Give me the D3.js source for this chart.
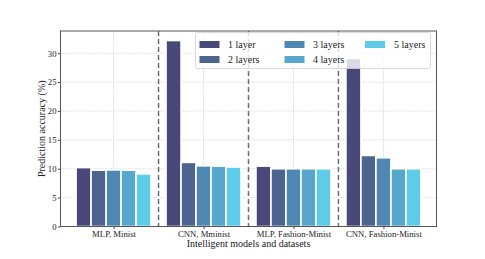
<!DOCTYPE html>
<html>
<head>
<meta charset="utf-8">
<script src="https://cdn.jsdelivr.net/npm/d3@7"></script>
<style>
  body { margin: 0; background: #fff; }
  svg { display: block; }
</style>
</head>
<body>
<div id="drawer"></div>
<script>
// data
var groups = ["MLP, Minist", "CNN, Mminist", "MLP, Fashion-Minist", "CNN, Fashion-Minist"];
var seriesNames = ["1 layer", "2 layers", "3 layers", "4 layers", "5 layers"];
var layer1 = [10.2, 32.2, 10.45, 29.1];
var layer2 = [9.75, 11.1, 10.0, 12.3];
var layer3 = [9.8, 10.5, 10.0, 11.9];
var layer4 = [9.75, 10.45, 10.0, 10.0];
var layer5 = [9.1, 10.3, 10.0, 10.0];
var yTicks = [0, 5, 10, 15, 20, 25, 30];

var series = [layer1, layer2, layer3, layer4, layer5];
var colors = ["#4a4878", "#4d6490", "#5088b4", "#57a6cc", "#5ecbe8"];

var w = 485, h = 259;
var plotL = 60.5, plotR = 436.5, plotT = 31, plotB = 226.5;
var font = "'Liberation Serif', 'Times New Roman', serif";

var svg = d3.select("#drawer").append("svg")
  .attr("width", w).attr("height", h);

var x = d3.scaleLinear().domain([-0.59, 3.59]).range([plotL, plotR]);
var y = d3.scaleLinear().domain([0, 33.85]).range([plotB, plotT]);
var barW = 0.1667;

// grid
var grid = svg.append("g");
grid.selectAll(".hg").data(yTicks).enter().append("line")
  .attr("x1", plotL).attr("x2", plotR)
  .attr("y1", function(d) { return y(d); }).attr("y2", function(d) { return y(d); })
  .style("stroke", "#d4d4d4").style("stroke-width", 0.8).style("stroke-dasharray", "1.5,1");
grid.selectAll(".vg").data(groups).enter().append("line")
  .attr("x1", function(d, i) { return x(i); }).attr("x2", function(d, i) { return x(i); })
  .attr("y1", plotT).attr("y2", plotB)
  .style("stroke", "#d4d4d4").style("stroke-width", 0.8).style("stroke-dasharray", "1.5,1");

// bars
var bars = [];
series.forEach(function(s, k) {
  s.forEach(function(v, i) { bars.push({g: i, k: k, v: v}); });
});
svg.append("g").selectAll("rect").data(bars).enter().append("rect")
  .attr("x", function(d) { return x(d.g + (d.k - 2) * barW - barW / 2); })
  .attr("width", x(barW) - x(0))
  .attr("y", function(d) { return y(d.v); })
  .attr("height", function(d) { return y(0) - y(d.v); })
  .style("fill", function(d) { return colors[d.k]; })
  .style("stroke", "#fff").style("stroke-width", 1.6);

// dashed separators
svg.append("g").selectAll("line").data([0.5, 1.5, 2.5]).enter().append("line")
  .attr("x1", function(d) { return x(d); }).attr("x2", function(d) { return x(d); })
  .attr("y1", plotT).attr("y2", plotB)
  .style("stroke", "#6e6e6e").style("stroke-width", 1.5).style("stroke-dasharray", "5,3");

// axes
var yAxis = d3.axisLeft(y).tickValues(yTicks).tickSize(2.5).tickPadding(1.5);
var gy = svg.append("g").attr("transform", "translate(" + plotL + ",0)").call(yAxis);
gy.select(".domain").remove();
gy.selectAll("line").style("stroke", "#444");
gy.selectAll("text").style("font-family", font).style("font-size", "8.7px").style("fill", "#222");

var xAxis = d3.axisBottom(x).tickValues([0, 1, 2, 3])
  .tickFormat(function(d) { return groups[d]; }).tickSize(2.5).tickPadding(1.5);
var gx = svg.append("g").attr("transform", "translate(0," + plotB + ")").call(xAxis);
gx.select(".domain").remove();
gx.selectAll("line").style("stroke", "#444");
gx.selectAll("text").style("font-family", font).style("font-size", "8.7px").style("fill", "#222");

// frame
svg.append("rect").attr("x", plotL).attr("y", plotT)
  .attr("width", plotR - plotL).attr("height", plotB - plotT)
  .style("fill", "none").style("stroke", "#555").style("stroke-width", 1);

// axis titles
svg.append("text").text("Intelligent models and datasets")
  .attr("x", (plotL + plotR) / 2).attr("y", 247)
  .attr("text-anchor", "middle")
  .style("font-family", font).style("font-size", "10px").style("fill", "#222");
svg.append("text").text("Prediction accuracy (%)")
  .attr("transform", "translate(45," + ((plotT + plotB) / 2) + ") rotate(-90)")
  .attr("text-anchor", "middle")
  .style("font-family", font).style("font-size", "10px").style("fill", "#222");

// legend
var lg = svg.append("g");
lg.append("rect").attr("x", 195.5).attr("y", 32.5).attr("width", 235).attr("height", 36)
  .attr("rx", 2)
  .style("fill", "#fff").style("fill-opacity", 0.8)
  .style("stroke", "#d0d0d0").style("stroke-width", 0.8);
var colX = [199.5, 284.5, 365];
var rowY = [44.5, 59.5];
var items = lg.selectAll(".item").data(seriesNames).enter().append("g")
  .attr("transform", function(d, i) {
    return "translate(" + colX[Math.floor(i / 2)] + "," + rowY[i % 2] + ")";
  });
items.append("rect").attr("x", 0).attr("y", -3.5).attr("width", 20).attr("height", 7)
  .style("fill", function(d, i) { return colors[i]; });
items.append("text").text(function(d) { return d; })
  .attr("x", function(d, i) { return Math.floor(i / 2) == 2 ? 29 : 28.5; })
  .attr("y", 3.5)
  .style("font-family", font).style("font-size", "10px").style("fill", "#222");
</script>
</body>
</html>
